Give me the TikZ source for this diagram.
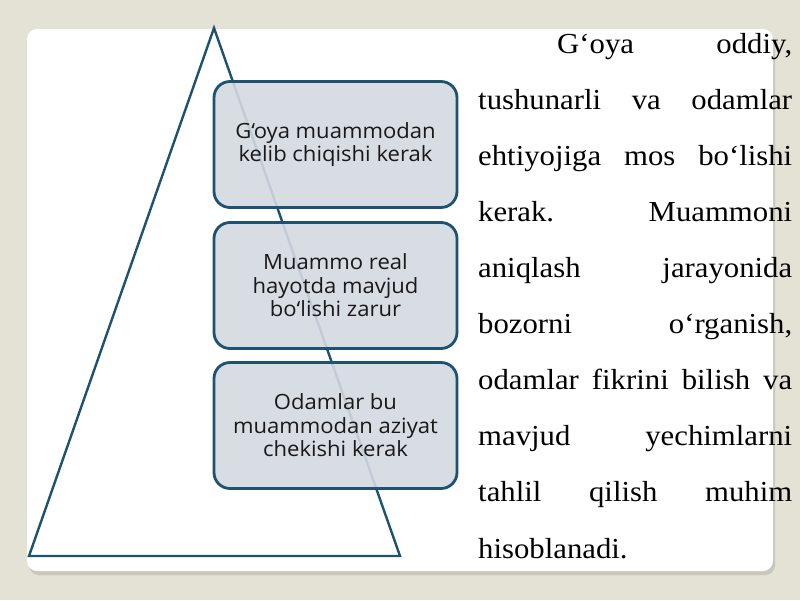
\documentclass[tikz,border=0pt]{standalone}
\usepackage{graphicx}
\usepackage{fontspec}
\setmainfont{Liberation Serif}
\newfontfamily\boxfont{Open Sans}
\definecolor{bgbeige}{RGB}{227,226,212}
\definecolor{edgeblue}{RGB}{30,82,112}
\definecolor{boxfill}{RGB}{212,217,224}
\definecolor{shadowgray}{RGB}{200,199,188}
\newcommand\boxtext[1]{\scalebox{1.05}[1]{\parbox{215pt}{\centering #1}}}
\newcommand\jline[2]{\scalebox{1.06}[1]{\hbox to #1{#2}}}
\begin{document}
\begin{tikzpicture}[x=1pt,y=-1pt,
  stepbox/.style={draw=edgeblue, line width=2.8pt, fill=boxfill, fill opacity=0.9, text opacity=1,
    rounded corners=16pt, minimum width=243pt, minimum height=126pt, inner sep=0pt,
    align=center, font=\boxfont\fontsize{21}{23.5}\selectfont, text=black!90},
  bodyline/.style={anchor=base west, inner sep=0pt, font=\fontsize{29}{34}\selectfont}]
\useasboundingbox (0,0) rectangle (800,600);
\fill[bgbeige] (0,0) rectangle (800,600);
\fill[shadowgray, rounded corners=10pt] (29,33) rectangle (775,575);
\fill[white, rounded corners=10pt] (27,29) rectangle (773,571);
% triangle
\coordinate (apex) at (214,28);
\coordinate (bl) at (29,556);
\coordinate (br) at (400,556);
\draw[edgeblue, line width=2.4pt, line join=miter] (apex) -- (bl) -- (br) -- cycle;
% boxes
\node[stepbox] (b1) at (335.5,144.5) {\boxtext{G‘oya muammodan\\kelib chiqishi kerak}};
\node[stepbox] (b2) at (335.5,285.5) {\boxtext{Muammo real\\hayotda mavjud\\bo‘lishi zarur}};
\node[stepbox] (b3) at (335.5,425.5) {\boxtext{Odamlar bu\\muammodan aziyat\\chekishi kerak}};
% paragraph
\node[bodyline] (t1) at (557,53) {\jline{221.7pt}{G‘oya\hfill oddiy,}};
\node[bodyline] (t2) at (478,109.1) {\jline{296.2pt}{tushunarli\hfill va\hfill odamlar}};
\node[bodyline] (t3) at (478,165.2) {\jline{296.2pt}{ehtiyojiga\hfill mos\hfill bo‘lishi}};
\node[bodyline] (t4) at (478,221.3) {\jline{296.2pt}{kerak.\hfill Muammoni}};
\node[bodyline] (t5) at (478,277.4) {\jline{296.2pt}{aniqlash\hfill jarayonida}};
\node[bodyline] (t6) at (478,333.5) {\jline{296.2pt}{bozorni\hfill o‘rganish,}};
\node[bodyline] (t7) at (478,389.6) {\jline{296.2pt}{odamlar\hfill fikrini\hfill bilish\hfill va}};
\node[bodyline] (t8) at (478,445.7) {\jline{296.2pt}{mavjud\hfill yechimlarni}};
\node[bodyline] (t9) at (478,501.8) {\jline{296.2pt}{tahlil\hfill qilish\hfill muhim}};
\node[bodyline] (t10) at (478,558) {\scalebox{1.06}[1]{hisoblanadi.}};
\end{tikzpicture}
\end{document}
